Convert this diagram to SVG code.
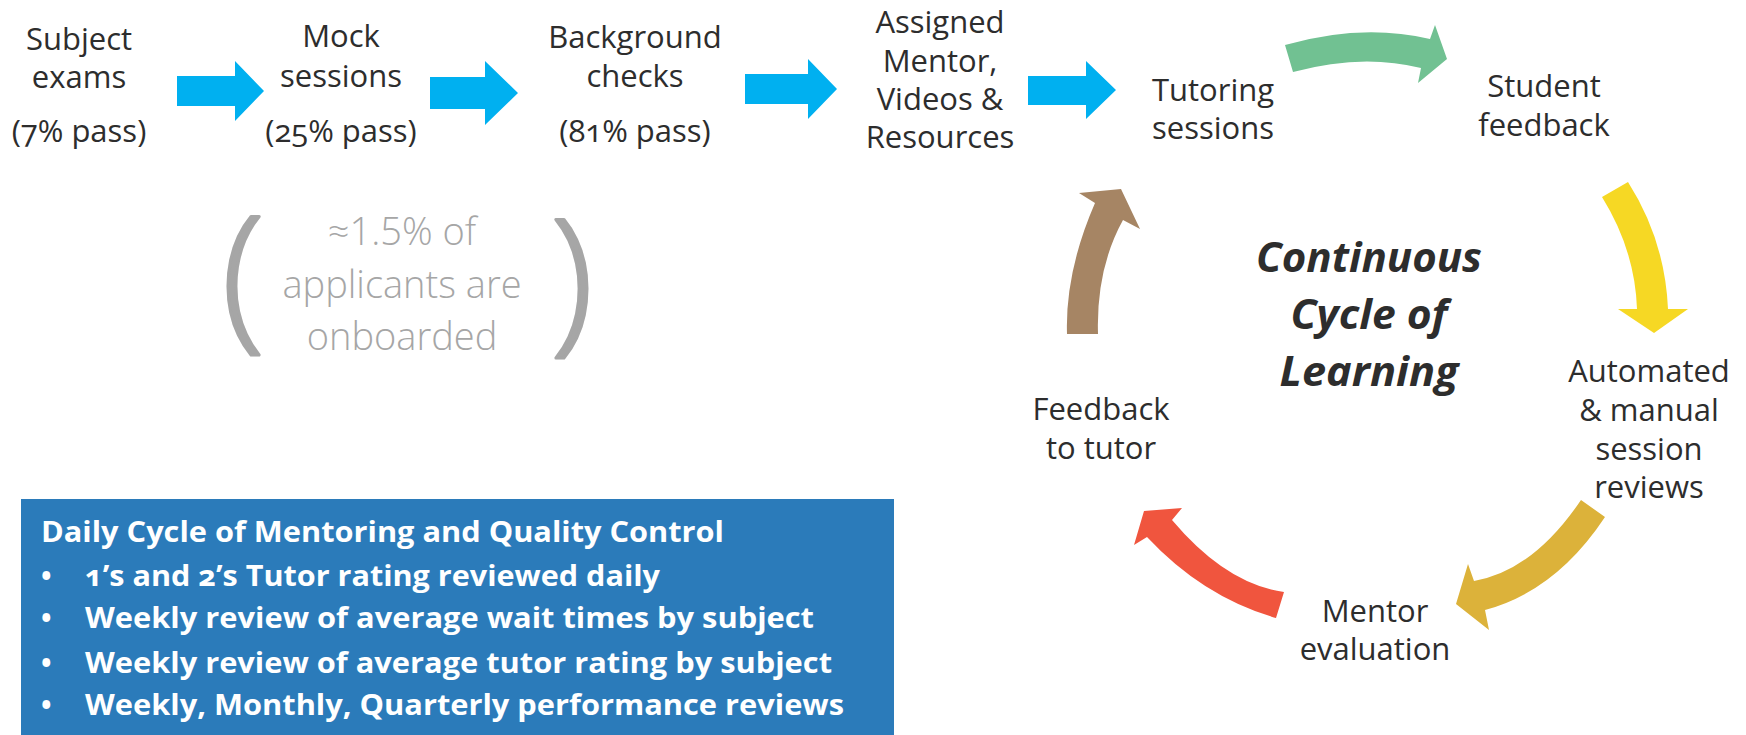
<svg xmlns="http://www.w3.org/2000/svg" width="1746" height="735" viewBox="0 0 1746 735">
  <style>
    .lbl { font-family: "Open Sans", "Noto Sans", "Liberation Sans", sans-serif; font-size: 31px; fill: #2d2d2d; text-anchor: middle; font-variant-numeric: oldstyle-nums; }
    .gray { font-family: "Open Sans", "Noto Sans", "Liberation Sans", sans-serif; font-weight: 300; font-size: 38px; fill: #a6a6a6; text-anchor: middle; }
    .paren { font-family: "Open Sans", "Noto Sans", "Liberation Sans", sans-serif; font-weight: 300; font-size: 158px; fill: #a6a6a6; stroke: #a6a6a6; stroke-width: 3; stroke-linejoin: round; text-anchor: middle; }
    .cycle { font-family: "Open Sans", "Noto Sans", "Liberation Sans", sans-serif; font-weight: 700; font-style: italic; font-size: 42px; fill: #2d2d2d; text-anchor: middle; }
    .box { font-family: "Open Sans", "Noto Sans", "Liberation Sans", sans-serif; font-weight: 700; font-size: 28px; fill: #ffffff; font-variant-numeric: oldstyle-nums; }
    .blue { fill: #00b0f0; }
  </style>

  <g id="connectors">
    <polygon class="blue" points="177,76 235,76 235,61 264,91 235,121 235,106 177,106"/>
    <polygon class="blue" points="430,77 485,77 485,61 518,93 485,125 485,109 430,109"/>
    <polygon class="blue" points="745,74 808,74 808,59 837,89 808,119 808,104 745,104"/>
    <polygon class="blue" points="1028,76 1086,76 1086,61 1116,90 1086,119 1086,105 1028,105"/>
    <path fill="#71c192" d="M 1285,45 Q 1362,23 1430,39 L 1435,25 L 1447,59 L 1418,83 L 1421,68 Q 1362,53 1293,72 Z"/>
    <path fill="#f6d824" d="M 1628,182 Q 1665,240 1668,309 L 1688,309 L 1654,333 L 1618,309 L 1637,309 Q 1635,250 1602,197 Z"/>
    <path fill="#dcb23a" d="M 1581,500 L 1605,517 Q 1556,591 1485,610 L 1489,630 L 1456,604 L 1468,564 L 1474,581 Q 1533,571 1581,500 Z"/>
    <path fill="#f0553e" d="M 1284,592 Q 1226,584 1172,520 L 1182,508 L 1144,511 L 1134,545 L 1147,537 Q 1203,597 1276,618 Z"/>
    <path fill="#a68564" d="M 1067,334 Q 1065,272 1095,203 L 1079,193 L 1121,189 L 1140,229 L 1123,220 Q 1096,269 1098,334 Z"/>
  </g>

  <g id="subject-exams">
    <text class="lbl" x="79" y="50">Subject</text>
    <text class="lbl" x="79" y="88">exams</text>
    <text class="lbl" x="79" y="142">(7% pass)</text>
  </g>
  <g id="mock-sessions">
    <text class="lbl" x="341" y="47">Mock</text>
    <text class="lbl" x="341" y="87">sessions</text>
    <text class="lbl" x="341" y="142">(25% pass)</text>
  </g>
  <g id="background-checks">
    <text class="lbl" x="635" y="48">Background</text>
    <text class="lbl" x="635" y="87">checks</text>
    <text class="lbl" x="635" y="142">(81% pass)</text>
  </g>
  <g id="assigned-mentor">
    <text class="lbl" x="940" y="33">Assigned</text>
    <text class="lbl" x="940" y="72">Mentor,</text>
    <text class="lbl" x="940" y="110">Videos &amp;</text>
    <text class="lbl" x="940" y="148">Resources</text>
  </g>
  <g id="tutoring-sessions">
    <text class="lbl" x="1213" y="101">Tutoring</text>
    <text class="lbl" x="1213" y="139">sessions</text>
  </g>
  <g id="student-feedback">
    <text class="lbl" x="1544" y="97">Student</text>
    <text class="lbl" x="1544" y="136">feedback</text>
  </g>
  <g id="session-reviews">
    <text class="lbl" x="1649" y="382">Automated</text>
    <text class="lbl" x="1649" y="421">&amp; manual</text>
    <text class="lbl" x="1649" y="460">session</text>
    <text class="lbl" x="1649" y="498">reviews</text>
  </g>
  <g id="mentor-evaluation">
    <text class="lbl" x="1375" y="622">Mentor</text>
    <text class="lbl" x="1375" y="660">evaluation</text>
  </g>
  <g id="feedback-to-tutor">
    <text class="lbl" x="1101" y="420">Feedback</text>
    <text class="lbl" x="1101" y="459">to tutor</text>
  </g>
  <g id="continuous-cycle">
    <text class="cycle" x="1369" y="272" textLength="226" lengthAdjust="spacingAndGlyphs">Continuous</text>
    <text class="cycle" x="1369" y="329" textLength="157" lengthAdjust="spacingAndGlyphs">Cycle of</text>
    <text class="cycle" x="1369" y="386" textLength="179" lengthAdjust="spacingAndGlyphs">Learning</text>
  </g>

  <g id="onboarded-note">
    <text class="paren" x="243" y="330">(</text>
    <text class="paren" x="572" y="333">)</text>
    <text class="gray" x="402" y="245">≈1.5% of</text>
    <text class="gray" x="402" y="298">applicants are</text>
    <text class="gray" x="402" y="350">onboarded</text>
  </g>

  <g id="daily-cycle-box">
    <rect x="21" y="499" width="873" height="236" fill="#2b7bba"/>
    <text class="box" x="41" y="542" textLength="683" lengthAdjust="spacingAndGlyphs">Daily Cycle of Mentoring and Quality Control</text>
    <text class="box" x="41" y="586">•</text>
    <text class="box" x="85" y="586" textLength="575" lengthAdjust="spacingAndGlyphs">1’s and 2’s Tutor rating reviewed daily</text>
    <text class="box" x="41" y="628">•</text>
    <text class="box" x="85" y="628" textLength="729" lengthAdjust="spacingAndGlyphs">Weekly review of average wait times by subject</text>
    <text class="box" x="41" y="673">•</text>
    <text class="box" x="85" y="673" textLength="747" lengthAdjust="spacingAndGlyphs">Weekly review of average tutor rating by subject</text>
    <text class="box" x="41" y="715">•</text>
    <text class="box" x="85" y="715" textLength="759" lengthAdjust="spacingAndGlyphs">Weekly, Monthly, Quarterly performance reviews</text>
  </g>
</svg>
